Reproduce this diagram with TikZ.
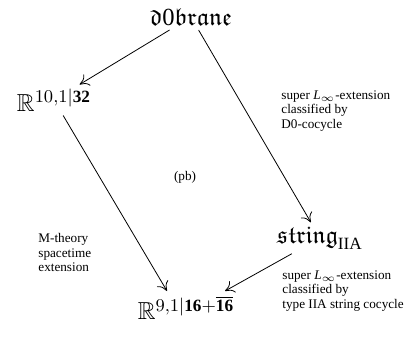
\documentclass[tikz,border=0pt]{standalone}
\usepackage{amssymb}
\usepackage{fontspec}
\setmainfont{Liberation Serif}
\usetikzlibrary{arrows.meta}
\tikzset{
 obj/.style={inner sep=2pt, font=\fontsize{12.3}{14}\selectfont},
 lbl/.style={align=left, font=\fontsize{6.6}{7.3}\selectfont, inner sep=0pt},
 arr/.style={-{To[length=4.5pt,width=6.5pt]}, line width=0.4pt}
}
\begin{document}
\begin{tikzpicture}[x=0.5pt,y=-0.5pt]
\useasboundingbox (0,0) rectangle (405,337);
\node[obj] (d0) at (191,17) {$\mathfrak{d}\mathrm{0}\mathfrak{brane}$};
\node[obj] (r10) at (54,100) {$\mathbb{R}^{10,1|\mathbf{32}}$};
\node[obj] (str) at (320,238) {$\mathfrak{string}_{\mathrm{IIA}}$};
\node[obj] (r9) at (186,308) {$\mathbb{R}^{9,1|\mathbf{16}+\overline{\mathbf{16}}}$};
\coordinate (t9a) at (167,291);
\coordinate (t9b) at (225,291);
\draw[arr] (d0) -- (r10);
\draw[arr] (d0) -- (str);
\draw[arr] (r10) -- (t9a);
\draw[arr] (str) -- (t9b);
\node[lbl, anchor=north west] (l1) at (281,90) {super \textit{L}$_\infty$-extension\\classified by\\D0-cocycle};
\node[lbl] (pb) at (185,177) {(pb)};
\node[lbl, anchor=north west] (l2) at (38,233) {M-theory\\spacetime\\extension};
\node[lbl, anchor=north west] (l3) at (282,270) {super \textit{L}$_\infty$-extension\\classified by\\type IIA string cocycle};
\end{tikzpicture}
\end{document}
